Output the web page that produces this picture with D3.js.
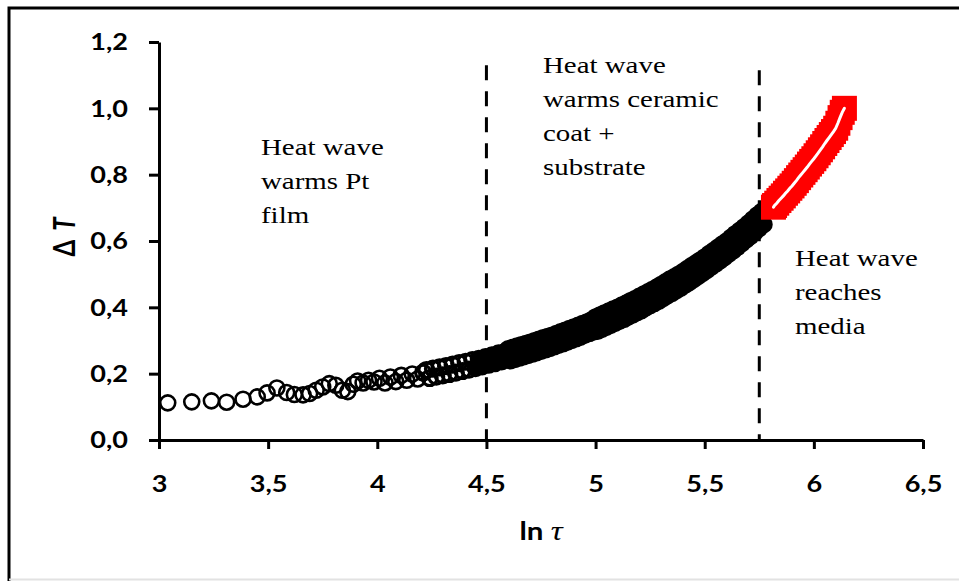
<!DOCTYPE html>
<html>
<head>
<meta charset="utf-8">
<script src="https://cdn.jsdelivr.net/npm/d3@7"></script>
<style>
  html, body { margin: 0; padding: 0; background: #fff; }
</style>
</head>
<body>
<script>
// ln(tau) / delta T (black open circles)
const blackLnTau = [
  3.04, 3.15, 3.24, 3.31, 3.385, 3.45, 3.495, 3.54, 3.585, 3.62, 3.66, 3.69, 3.72, 3.75, 3.78, 3.81,
  3.84, 3.865, 3.89, 3.91, 3.935, 3.96, 3.985, 4.01, 4.035, 4.06, 4.085, 4.11, 4.135, 4.16, 4.185, 4.21,
  4.225, 4.24, 4.255, 4.27, 4.285, 4.30, 4.315, 4.33, 4.345, 4.36, 4.375, 4.39, 4.405, 4.42, 4.435, 4.45,
  4.465, 4.48, 4.495, 4.51, 4.525, 4.54, 4.555, 4.57, 4.585,
  4.60, 4.61, 4.62, 4.63, 4.64, 4.65, 4.66, 4.67, 4.68, 4.69, 4.70, 4.71, 4.72, 4.73, 4.74, 4.75,
  4.76, 4.77, 4.78, 4.79, 4.80, 4.81, 4.82, 4.83, 4.84, 4.85, 4.86, 4.87, 4.88, 4.89, 4.90, 4.91,
  4.92, 4.93, 4.94, 4.95, 4.96, 4.97, 4.98, 4.99, 5.00, 5.01, 5.02, 5.03, 5.04, 5.05, 5.06, 5.07,
  5.08, 5.09, 5.10, 5.11, 5.12, 5.13, 5.14, 5.15, 5.16, 5.17, 5.18, 5.19, 5.20, 5.21, 5.22, 5.23,
  5.24, 5.25, 5.26, 5.27, 5.28, 5.29, 5.30, 5.31, 5.32, 5.33, 5.34, 5.35, 5.36, 5.37, 5.38, 5.39,
  5.40, 5.41, 5.42, 5.43, 5.44, 5.45, 5.46, 5.47, 5.48, 5.49, 5.50, 5.51, 5.52, 5.53, 5.54, 5.55,
  5.56, 5.57, 5.58, 5.59, 5.60, 5.61, 5.62, 5.63, 5.64, 5.65, 5.66, 5.67, 5.68, 5.69, 5.70, 5.71,
  5.72, 5.73, 5.74, 5.75, 5.76, 5.77, 5.78
];
const blackDeltaT = [
  0.112, 0.115, 0.118, 0.114, 0.123, 0.130, 0.142, 0.157, 0.143, 0.137, 0.136, 0.140, 0.150, 0.160, 0.170, 0.165,
  0.150, 0.146, 0.168, 0.178, 0.172, 0.180, 0.175, 0.186, 0.172, 0.190, 0.176, 0.195, 0.180, 0.199, 0.184, 0.203,
  0.211, 0.187, 0.215, 0.191, 0.219, 0.195, 0.223, 0.199, 0.227, 0.203, 0.232, 0.208, 0.236, 0.212, 0.241, 0.217,
  0.245, 0.222, 0.250, 0.227, 0.255, 0.232, 0.261, 0.237, 0.266,
  0.274, 0.240, 0.278, 0.244, 0.282, 0.248, 0.286, 0.252, 0.290, 0.256, 0.294, 0.260, 0.298, 0.264, 0.303, 0.269,
  0.307, 0.273, 0.311, 0.277, 0.315, 0.282, 0.320, 0.287, 0.325, 0.291, 0.330, 0.296, 0.335, 0.301, 0.340, 0.306,
  0.345, 0.311, 0.350, 0.317, 0.355, 0.322, 0.361, 0.327, 0.370, 0.329, 0.376, 0.335, 0.382, 0.341, 0.388, 0.347,
  0.394, 0.353, 0.399, 0.359, 0.406, 0.365, 0.412, 0.372, 0.419, 0.378, 0.425, 0.385, 0.432, 0.391, 0.439, 0.399,
  0.446, 0.406, 0.453, 0.413, 0.460, 0.420, 0.468, 0.428, 0.476, 0.436, 0.484, 0.443, 0.491, 0.451, 0.499, 0.459,
  0.507, 0.468, 0.516, 0.476, 0.525, 0.485, 0.533, 0.494, 0.542, 0.503, 0.551, 0.512, 0.561, 0.522, 0.570, 0.531,
  0.580, 0.541, 0.590, 0.551, 0.599, 0.561, 0.610, 0.571, 0.621, 0.582, 0.631, 0.593, 0.642, 0.604, 0.653, 0.615,
  0.665, 0.627, 0.677, 0.639, 0.688, 0.650, 0.700
];

// highlighted late-time segment (red)
const redLnTau = [
  5.815, 5.82, 5.83, 5.84, 5.85, 5.86, 5.87, 5.88, 5.89, 5.90, 5.91, 5.92, 5.93, 5.94, 5.95, 5.96, 5.97,
  5.98, 5.99, 6.00, 6.01, 6.02, 6.03, 6.04, 6.05, 6.06, 6.07, 6.08, 6.09, 6.10, 6.11, 6.12, 6.13, 6.14
];
const redDeltaT = [
  0.702, 0.707, 0.714, 0.722, 0.729, 0.736, 0.744, 0.751, 0.759, 0.766, 0.774, 0.782, 0.791, 0.799, 0.807, 0.815, 0.823,
  0.832, 0.840, 0.848, 0.857, 0.866, 0.875, 0.884, 0.894, 0.903, 0.912, 0.921, 0.930, 0.940, 0.955, 0.972, 0.988, 1.000
];

const xTicks = [3, 3.5, 4, 4.5, 5, 5.5, 6, 6.5];
const yTicks = [0, 0.2, 0.4, 0.6, 0.8, 1.0, 1.2];

// regime boundaries (dashed lines)
const dividerLnTau = [4.5, 5.75];
const dividerTop = [1.13, 1.115];

const noteLines = [
  ["Heat wave", "warms Pt", "film"],
  ["Heat wave", "warms ceramic", "coat +", "substrate"],
  ["Heat wave", "reaches", "media"]
];

const W = 959, H = 581;
const stretch = 1.23; // source picture is widened horizontally

const svg = d3.select("body").append("svg")
  .attr("width", W)
  .attr("height", H)
  .attr("xmlns", "http://www.w3.org/2000/svg");

// frame
svg.append("path")
  .attr("d", "M9,581V8H959")
  .attr("fill", "none")
  .attr("stroke", "#000")
  .attr("stroke-width", 3);
svg.append("line")
  .attr("x1", 9).attr("x2", W).attr("y1", 579.5).attr("y2", 579.5)
  .attr("stroke", "#e2e2e2").attr("stroke-width", 2);

const x = d3.scaleLinear().domain([3, 6.5]).range([159, 923]);
const y = d3.scaleLinear().domain([0, 1.2]).range([440, 42]);

const comma = d => String(d).replace(".", ",");

// dashed boundaries
svg.selectAll("line.divider")
  .data(dividerLnTau)
  .enter()
  .append("line")
  .attr("class", "divider")
  .attr("x1", d => x(d))
  .attr("x2", d => x(d))
  .attr("y1", (d, i) => y(dividerTop[i]))
  .attr("y2", y(0))
  .attr("stroke", "#000")
  .attr("stroke-width", 3)
  .attr("stroke-dasharray", "15,11");

// black open circles; where they pile up the overlap reads as solid black
const black = blackLnTau.map((d, i) => [d, blackDeltaT[i]]);
svg.append("g")
  .selectAll("circle")
  .data(black)
  .enter()
  .append("circle")
  .attr("cx", d => x(d[0]))
  .attr("cy", d => y(d[1]))
  .attr("r", 7.5)
  .attr("fill", d => d[0] < 4.45 ? "none" : "#000")
  .attr("stroke", "#000")
  .attr("stroke-width", d => d[0] < 4.2 ? 2.6 : 3.2);

// red segment + white fit line
const red = redLnTau.map((d, i) => [d, redDeltaT[i]]);
const sq = 25;
svg.append("g")
  .selectAll("rect")
  .data(red)
  .enter()
  .append("rect")
  .attr("x", d => x(d[0]) - sq / 2)
  .attr("y", d => y(d[1]) - sq / 2)
  .attr("width", sq)
  .attr("height", sq)
  .attr("fill", "#ff0000");

svg.append("path")
  .datum(red)
  .attr("d", d3.line().x(d => x(d[0])).y(d => y(d[1])))
  .attr("fill", "none")
  .attr("stroke", "#fff")
  .attr("stroke-width", 3)
  .attr("stroke-linecap", "round");

// axes
const xAxis = svg.append("g")
  .attr("transform", "translate(0," + y(0) + ")")
  .call(d3.axisBottom(x).tickValues(xTicks).tickSize(9).tickSizeOuter(0).tickFormat(comma));
const yAxis = svg.append("g")
  .attr("transform", "translate(" + x(3) + ",0)")
  .call(d3.axisLeft(y).tickValues(yTicks).tickSize(10).tickSizeOuter(0)
    .tickFormat(d => d3.format(".1f")(d).replace(".", ",")));

[xAxis, yAxis].forEach(g => {
  g.selectAll("path, line").attr("stroke", "#000").attr("stroke-width", 3);
  g.selectAll("text")
    .attr("fill", "#000")
    .style("font-family", "Lato, 'DejaVu Sans', sans-serif")
    .style("font-weight", "bold")
    .style("font-size", "22px");
});
xAxis.selectAll("text")
  .attr("y", 52).attr("dy", 0)
  .attr("transform", "scale(" + stretch + ",1)");
yAxis.selectAll("text")
  .attr("x", -31 / stretch).attr("dy", "0.36em")
  .attr("transform", "scale(" + stretch + ",1)");

// axis titles
const xTitle = svg.append("text")
  .attr("transform", "translate(" + x(4.75) + ",540) scale(" + stretch + ",1)")
  .attr("text-anchor", "middle")
  .style("font-family", "Lato, 'DejaVu Sans', sans-serif")
  .style("font-weight", "bold")
  .style("font-size", "24px");
xTitle.append("tspan").text("ln ");
xTitle.append("tspan")
  .style("font-family", "'Liberation Serif', serif")
  .style("font-style", "italic")
  .style("font-weight", "normal")
  .style("font-size", "27px")
  .text("τ");

const yTitle = svg.append("text")
  .attr("transform", "translate(75,237) scale(" + stretch + ",1) rotate(-90)")
  .attr("text-anchor", "middle")
  .style("font-family", "Lato, 'DejaVu Sans', sans-serif")
  .style("font-weight", "bold")
  .style("font-size", "24px");
yTitle.append("tspan").text("Δ");
yTitle.append("tspan").attr("dx", 9).style("font-style", "italic").text("T");

// annotations
const notePos = [[261, 155], [543, 73], [795, 266]];
noteLines.forEach((lines, i) => {
  const t = svg.append("text")
    .attr("transform", "translate(" + notePos[i][0] + "," + notePos[i][1] + ") scale(" + stretch + ",1)")
    .style("font-family", "'Liberation Serif', 'Times New Roman', serif")
    .style("font-size", "23.5px")
    .attr("fill", "#000");
  lines.forEach((s, j) => {
    t.append("tspan").attr("x", 0).attr("y", j * 34).text(s);
  });
});
</script>
</body>
</html>
